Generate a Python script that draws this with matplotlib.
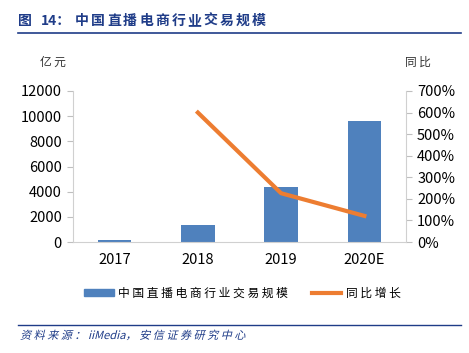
import matplotlib
matplotlib.use("Agg")
from matplotlib import pyplot as plt
from matplotlib.lines import Line2D
from matplotlib.patches import Patch, PathPatch
from matplotlib.textpath import TextPath
from matplotlib.font_manager import FontProperties
import matplotlib.transforms as mtransforms
import numpy as np

plt.rcParams['font.family'] = ['Noto Sans CJK SC', 'DejaVu Sans']

years = ["2017", "2018", "2019", "2020E"]
scale = [190, 1330, 4338, 9610]          # 亿元
growth_years = ["2018", "2019", "2020E"]
growth = [600, 226, 121]                  # %
title_no = "14："
title = "中国直播电商行业交易规模"

bar_color = "#4F81BD"
line_color = "#ED7D31"
navy = "#1F3C88"


def spaced(s, sep=" "):
	return sep.join(s)


def main():
	f = plt.figure(figsize=(4.69, 3.53), dpi=100)
	ax = f.add_axes([73/469, 1-242/353, 333/469, 151/353])
	x = np.arange(len(years))
	ax.bar(x, scale, width=0.4, color=bar_color, zorder=2)
	ax.set_xlim(-0.5, len(years) - 0.5)
	ax.set_ylim(0, 12000)
	ax.set_yticks(range(0, 12001, 2000))
	ax.set_xticks(x)
	ax.set_xticklabels(years)
	ax.tick_params(axis="x", length=0, pad=8, labelsize=10.5)
	ax.tick_params(axis="y", length=4, color="#bfbfbf", pad=4, labelsize=10.5)
	for s in ["top", "right"]:
		ax.spines[s].set_visible(False)
	for s in ["left", "bottom"]:
		ax.spines[s].set_color("#d0d0d0")

	ax2 = ax.twinx()
	gx = [years.index(y) for y in growth_years]
	ax2.plot(gx, growth, color=line_color, lw=3, zorder=3)
	ax2.set_ylim(0, 700)
	ax2.set_yticks(range(0, 701, 100))
	ax2.set_yticklabels(["%d%%" % v for v in range(0, 701, 100)])
	ax2.tick_params(axis="y", length=4, color="#bfbfbf", pad=4, labelsize=10.5)
	for s in ["top", "left", "bottom"]:
		ax2.spines[s].set_visible(False)
	ax2.spines["right"].set_color("#d0d0d0")

	f.text(53/469, 1-62/353, spaced("亿元", "\u2009"), fontsize=8.5, ha="center", va="center", color="#333333")
	f.text(418/469, 1-62/353, spaced("同比", "\u2009"), fontsize=8.5, ha="center", va="center", color="#333333")

	# title, one character at a time to get the wide letter spacing
	tkw = dict(fontsize=10, fontweight="bold", color=navy, va="center")
	f.text(25/469, 1-21/353, "图", ha="center", **tkw)
	f.text(41/469, 1-21/353, title_no, ha="left", **tkw)
	for i, ch in enumerate(title):
		f.text((82 + i*16.05)/469, 1-21/353, ch, ha="center", **tkw)
	f.add_artist(Line2D([18/469, 461/469], [1-33/353, 1-33/353], color=navy, lw=1.2))
	f.add_artist(Line2D([18/469, 461/469], [1-325/353, 1-325/353], color=navy, lw=1.0))

	# source line, slanted by hand (the CJK font has no italic)
	src = spaced("资料来源：") + " iiMedia， " + spaced("安信证券研究中心")
	tp = TextPath((0, 0), src, size=8.0, prop=FontProperties(family='Noto Sans CJK SC'))
	k = 100/72.
	tr = mtransforms.Affine2D().scale(k).skew_deg(14, 0).translate(20, 353-339)
	f.add_artist(PathPatch(tp, transform=tr, color=navy, lw=0))

	handles = [Patch(color=bar_color), Line2D([0], [0], color=line_color, lw=3)]
	f.legend(handles, [spaced("中国直播电商行业交易规模"), spaced("同比增长")], loc="center",
		bbox_to_anchor=(0.5 + 8/469, 1-293/353), ncol=2, frameon=False, fontsize=8.5,
		handlelength=2.5, handleheight=0.6, columnspacing=2.0, handletextpad=0.4)

	plt.savefig("out.png", dpi=100)


if __name__ == '__main__':
	main()
